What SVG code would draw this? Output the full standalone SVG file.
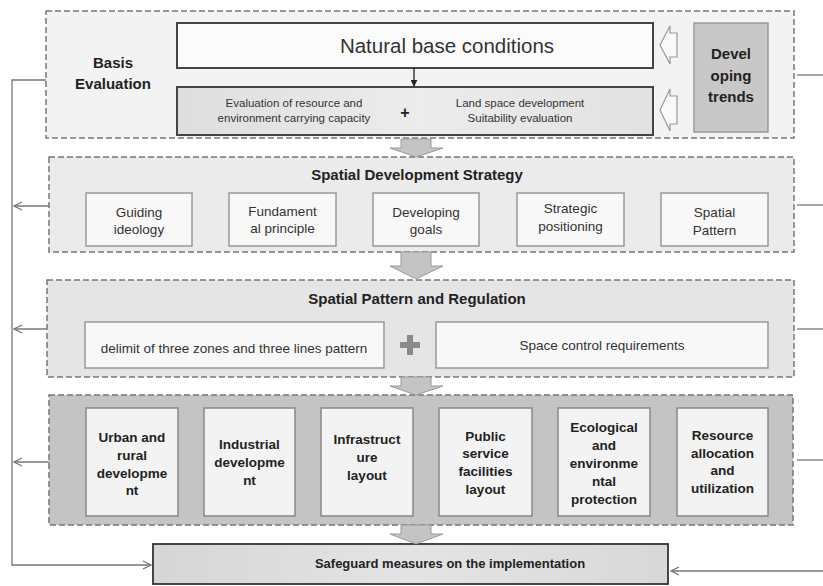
<svg xmlns="http://www.w3.org/2000/svg" width="823" height="586" viewBox="0 0 823 586">
<defs>
<style>
.sec{stroke:#777;stroke-width:1.5;stroke-dasharray:6,3}
.box{fill:#f8f8f8;stroke:#999;stroke-width:1.5}
.box4{fill:#f3f3f3;stroke:#888;stroke-width:1.5}
.t{font-family:"Liberation Sans",Arial,sans-serif;fill:#333;text-anchor:middle}
.b{font-family:"Liberation Sans",Arial,sans-serif;font-weight:bold;fill:#222;text-anchor:middle}
.ln{fill:none;stroke:#777;stroke-width:1.3}
.blk{fill:#c4c4c4;stroke:#999;stroke-width:1}
.hol{fill:#fafafa;stroke:#999;stroke-width:1.2}
</style>
<marker id="open" viewBox="0 0 10 10" refX="9" refY="5" markerWidth="10" markerHeight="10" markerUnits="userSpaceOnUse" orient="auto">
<path d="M1,1 L9,5 L1,9" fill="none" stroke="#777" stroke-width="1.3"/>
</marker>
<marker id="fill" viewBox="0 0 10 10" refX="9" refY="5" markerWidth="7" markerHeight="7" markerUnits="userSpaceOnUse" orient="auto">
<path d="M0,0 L10,5 L0,10 z" fill="#222"/>
</marker>
<linearGradient id="g1" x1="0" x2="1" y1="0" y2="0"><stop offset="0" stop-color="#dedede"/><stop offset="0.5" stop-color="#ececec"/><stop offset="1" stop-color="#e2e2e2"/></linearGradient>
<linearGradient id="g2" x1="0" x2="1" y1="0" y2="0"><stop offset="0" stop-color="#d6d6d6"/><stop offset="0.5" stop-color="#e4e4e4"/><stop offset="1" stop-color="#d8d8d8"/></linearGradient>
</defs>

<g id="sec1">
<rect class="sec" x="46" y="11" width="748" height="127" fill="#f3f3f3"/>
<text class="b" font-size="15" x="113" y="68">Basis</text>
<text class="b" font-size="15" x="113" y="89">Evaluation</text>
</g>
<g id="natural">
<rect x="177" y="23" width="476" height="45" fill="#fbfbfb" stroke="#444" stroke-width="2"/>
<text class="t" font-size="20.5" x="447" y="53" fill="#222">Natural base conditions</text>
</g>
<g id="evaluation">
<rect x="177" y="87" width="476" height="48" fill="url(#g1)" stroke="#444" stroke-width="2"/>
<text class="t" font-size="11.5" x="294" y="107">Evaluation of resource and</text>
<text class="t" font-size="11.5" x="294" y="122">environment carrying capacity</text>
<text class="b" font-size="16" x="405" y="118">+</text>
<text class="t" font-size="11.5" x="520" y="107">Land space development</text>
<text class="t" font-size="11.5" x="520" y="122">Suitability evaluation</text>
</g>
<g id="trends">
<rect x="694" y="23" width="74" height="109" fill="#c8c8c8" stroke="#9a9a9a" stroke-width="1.5"/>
<text class="b" font-size="15" x="731" y="59">Devel</text>
<text class="b" font-size="15" x="731" y="81">oping</text>
<text class="b" font-size="15" x="731" y="102">trends</text>
</g>

<g id="sec2">
<rect class="sec" x="49" y="157" width="745" height="95" fill="#ebebeb"/>
<text class="b" font-size="15" x="417" y="180">Spatial Development Strategy</text>
</g>
<g id="guiding"><rect class="box" x="86" y="193" width="106" height="53"/><text class="t" font-size="13.5" x="139" y="217">Guiding</text><text class="t" font-size="13.5" x="139" y="234">ideology</text></g>
<g id="fundamental"><rect class="box" x="229" y="193" width="107" height="53"/><text class="t" font-size="13.5" x="282.5" y="216">Fundament</text><text class="t" font-size="13.5" x="282.5" y="233">al principle</text></g>
<g id="goals"><rect class="box" x="373" y="193" width="106" height="53"/><text class="t" font-size="13.5" x="426" y="217">Developing</text><text class="t" font-size="13.5" x="426" y="234">goals</text></g>
<g id="positioning"><rect class="box" x="517" y="193" width="107" height="53"/><text class="t" font-size="13.5" x="570.5" y="213">Strategic</text><text class="t" font-size="13.5" x="570.5" y="231">positioning</text></g>
<g id="pattern"><rect class="box" x="661" y="193" width="107" height="53"/><text class="t" font-size="13.5" x="714.5" y="217">Spatial</text><text class="t" font-size="13.5" x="714.5" y="235">Pattern</text></g>

<g id="sec3">
<rect class="sec" x="47" y="280" width="747" height="97" fill="#e5e5e5"/>
<text class="b" font-size="15" x="417" y="304">Spatial Pattern and Regulation</text>
</g>
<g id="delimit"><rect class="box" x="85" y="322" width="299" height="46"/><text class="t" font-size="13.5" x="234" y="353">delimit of three zones and three lines pattern</text></g>
<g id="plus3"><rect x="400" y="342" width="20" height="6" fill="#8a8a8a"/><rect x="407" y="335" width="6" height="20" fill="#8a8a8a"/></g>
<g id="control"><rect class="box" x="436" y="322" width="332" height="46"/><text class="t" font-size="13.5" x="602" y="350">Space control requirements</text></g>

<g id="sec4">
<rect class="sec" x="49" y="395" width="744" height="130" fill="#c4c4c4"/>
</g>
<g id="urban"><rect class="box4" x="86" y="408" width="92" height="108"/>
<text class="b" font-size="13.5" x="132" y="442">Urban and</text><text class="b" font-size="13.5" x="132" y="460">rural</text><text class="b" font-size="13.5" x="132" y="478">developme</text><text class="b" font-size="13.5" x="132" y="495">nt</text></g>
<g id="industrial"><rect class="box4" x="204" y="408" width="91" height="108"/>
<text class="b" font-size="13.5" x="249.5" y="449">Industrial</text><text class="b" font-size="13.5" x="249.5" y="467">developme</text><text class="b" font-size="13.5" x="249.5" y="485">nt</text></g>
<g id="infra"><rect class="box4" x="321" y="408" width="92" height="108"/>
<text class="b" font-size="13.5" x="367" y="444">Infrastruct</text><text class="b" font-size="13.5" x="367" y="462">ure</text><text class="b" font-size="13.5" x="367" y="480">layout</text></g>
<g id="public"><rect class="box4" x="439" y="408" width="93" height="108"/>
<text class="b" font-size="13.5" x="485.5" y="441">Public</text><text class="b" font-size="13.5" x="485.5" y="458">service</text><text class="b" font-size="13.5" x="485.5" y="476">facilities</text><text class="b" font-size="13.5" x="485.5" y="494">layout</text></g>
<g id="eco"><rect class="box4" x="558" y="408" width="92" height="108"/>
<text class="b" font-size="13.5" x="604" y="432">Ecological</text><text class="b" font-size="13.5" x="604" y="450">and</text><text class="b" font-size="13.5" x="604" y="468">environme</text><text class="b" font-size="13.5" x="604" y="486">ntal</text><text class="b" font-size="13.5" x="604" y="504">protection</text></g>
<g id="resource"><rect class="box4" x="677" y="408" width="91" height="108"/>
<text class="b" font-size="13.5" x="722.5" y="440">Resource</text><text class="b" font-size="13.5" x="722.5" y="458">allocation</text><text class="b" font-size="13.5" x="722.5" y="475">and</text><text class="b" font-size="13.5" x="722.5" y="493">utilization</text></g>

<g id="safeguard">
<rect x="153" y="544" width="515" height="40" fill="url(#g2)" stroke="#333" stroke-width="1.8"/>
<text class="b" font-size="13" x="450" y="568">Safeguard measures on the implementation</text>
</g>

<g id="connectors">
<line x1="414" y1="68" x2="414" y2="86" stroke="#222" stroke-width="1.3" marker-end="url(#fill)"/>
<path class="hol" d="M660,45 L670,26 L670,33 L677,33 L677,57 L670,57 L670,64 Z"/>
<path class="hol" d="M660,110 L670,89 L670,96 L677,96 L677,124 L670,124 L670,131 Z"/>
<path class="blk" d="M401,139 L431,139 L431,148 L443,148 L416,157 L390,148 L401,148 Z"/>
<path class="blk" d="M401,252 L431,252 L431,266 L443,266 L416,279 L390,266 L401,266 Z"/>
<path class="blk" d="M401,377 L431,377 L431,386 L443,386 L416,395 L390,386 L401,386 Z"/>
<path class="blk" d="M401,525 L431,525 L431,534 L443,534 L416,544 L390,534 L401,534 Z"/>
<path class="ln" d="M46,80 L12,80 L12,565 L151,565" marker-end="url(#open)"/>
<line class="ln" x1="49" y1="206" x2="14" y2="206" marker-end="url(#open)"/>
<line class="ln" x1="47" y1="329" x2="14" y2="329" marker-end="url(#open)"/>
<line class="ln" x1="49" y1="462" x2="14" y2="462" marker-end="url(#open)"/>
<line class="ln" x1="797" y1="75" x2="823" y2="75"/>
<line class="ln" x1="797" y1="205" x2="823" y2="205"/>
<line class="ln" x1="797" y1="329" x2="823" y2="329"/>
<line class="ln" x1="797" y1="460" x2="823" y2="460"/>
<line class="ln" x1="823" y1="571" x2="671" y2="571" marker-end="url(#open)"/>
</g>
</svg>
